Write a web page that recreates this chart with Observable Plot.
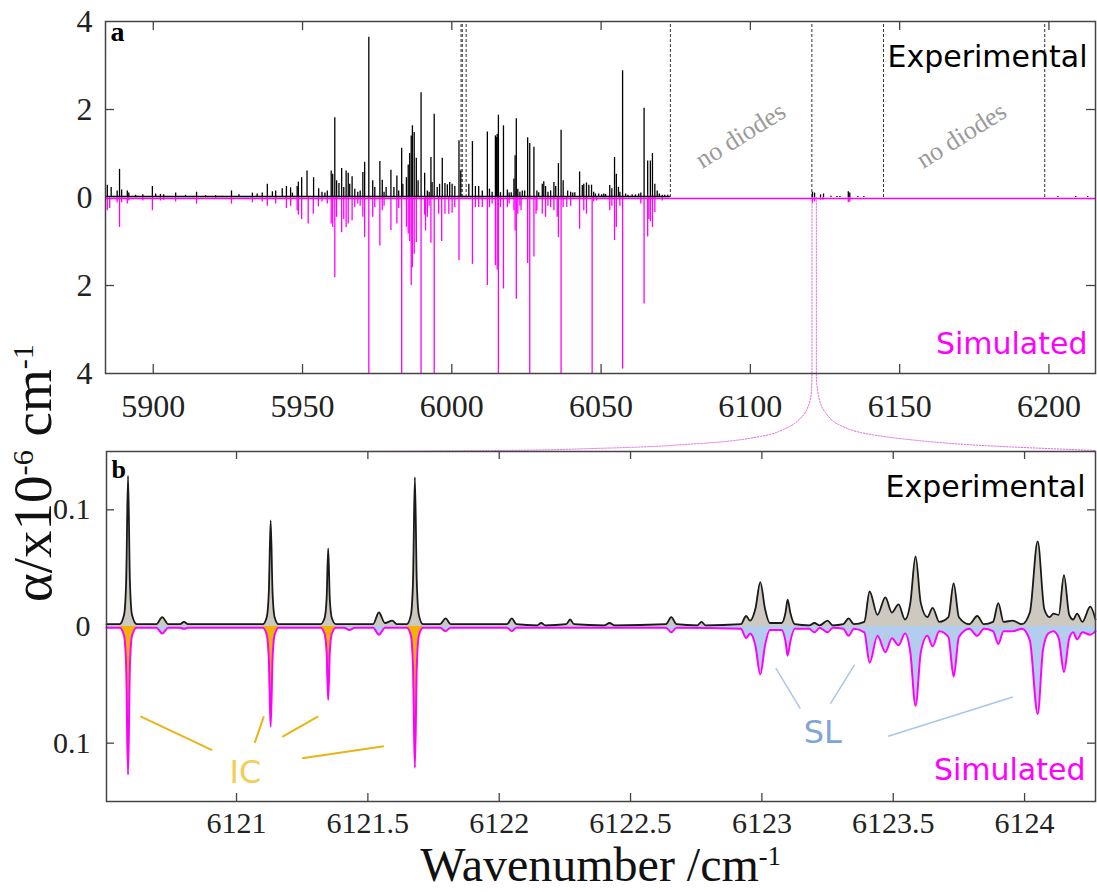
<!DOCTYPE html>
<html><head><meta charset="utf-8">
<script src="https://cdn.jsdelivr.net/npm/d3@7"></script>
<script src="https://cdn.jsdelivr.net/npm/@observablehq/plot@0.6"></script>
<style>
body{margin:0;background:#fff;}
#fig{position:relative;width:1097px;height:892px;overflow:hidden;background:#fff;}
#fig svg{position:absolute;left:0;top:0;}
.serif{font-family:'Liberation Serif','Times New Roman',serif;color:#111;position:absolute;white-space:nowrap;}
.sup{position:relative;font-size:0.55em;}
</style></head><body><div id="fig"></div>
<script>
// ---------- Panel a: overview (wavenumber, alpha x1e-6) ----------
const expA = [
[5884.6,0.28],[5885.9,0.23],[5887.9,0.15],[5888.7,0.64],[5889.4,0.17],[5891.3,0.15],[5891.8,0.10],[5894.1,0.05],[5896.5,0.06],[5899.7,0.25],[5900.8,0.08],[5902.4,0.07],[5903.5,0.06],[5907.5,0.10],[5910.8,0.05],[5914.5,0.12],[5917.5,0.04],[5920.9,0.04],[5923.1,0.03],[5926.2,0.15],[5928.7,0.06],[5933.2,0.10],[5934.8,0.08],[5936.5,0.10],[5938.2,0.30],[5939.9,0.13],[5941.0,0.15],[5943.2,0.20],[5944.6,0.25],[5946.0,0.22],[5946.6,0.10],[5948.2,0.25],
[5948.6,0.35],[5949.7,0.45],[5951.5,0.60],[5953.7,0.45],[5955.4,0.20],[5956.5,0.12],[5957.5,0.10],[5958.3,0.15],
[5959.6,0.60],[5960.1,0.53],[5960.8,1.81],[5961.4,0.38],[5962.2,0.32],[5963.1,0.66],[5963.8,0.23],[5964.6,0.60],[5965.3,0.55],[5965.8,0.30],[5966.6,0.47],[5967.5,0.19],[5968.5,0.12],[5969.3,0.15],[5970.2,0.57],[5970.8,0.80],[5972.2,3.64],[5973.5,0.38],[5974.2,0.23],[5975.9,0.82],[5976.7,0.39],[5977.3,0.12],[5978.0,0.23],[5979.6,0.62],[5980.6,0.23],[5981.6,0.49],[5982.2,0.15],[5983.2,1.12],[5983.6,0.30],[5984.8,0.45],[5985.4,0.74],[5985.9,1.00],[5986.4,1.40],[5986.8,1.63],[5987.4,1.48],[5988.1,0.89],[5988.7,0.38],[5989.7,2.38],[5990.9,0.55],[5991.8,0.15],[5992.4,0.12],[5993.0,0.91],[5993.4,0.34],[5994.1,1.89],[5995.1,0.23],[5995.9,0.30],[5996.8,0.89],[5997.7,0.32],[5998.5,0.29],[5999.3,0.34],[6000.1,0.30],[6001.0,0.25],[6002.4,1.29],[6003.0,0.60],
[6005.7,0.30],[6006.9,1.27],[6007.9,0.25],[6009.0,0.25],[6010.2,0.15],[6011.9,1.49],[6012.6,0.19],[6013.5,0.12],[6014.6,1.40],[6015.0,1.36],[6015.2,1.43],[6015.6,1.87],[6016.3,0.11],[6017.3,1.63],[6018.6,0.17],[6019.2,0.10],[6019.9,0.11],[6020.8,0.42],[6021.2,0.95],[6021.6,1.79],[6022.1,0.19],[6022.8,0.12],[6023.6,0.15],[6024.4,0.15],[6025.4,1.36],[6026.1,1.23],[6027.5,1.14],[6028.5,0.15],[6029.1,0.11],[6030.3,0.30],[6030.8,0.36],[6031.4,0.25],[6032.2,0.12],[6033.1,0.15],[6034.2,0.34],[6034.8,0.25],[6035.7,0.77],[6036.6,1.53],[6037.3,0.38],[6038.8,0.15],[6039.8,0.12],[6040.5,0.10],[6041.2,0.11],[6042.8,0.58],[6043.7,0.27],[6044.2,0.30],[6045.1,0.33],[6045.9,0.28],[6046.8,0.28],[6047.5,0.12],[6048.1,0.08],[6049.2,0.08],[6050.2,0.06],[6050.9,0.08],[6051.5,0.07],[6052.9,0.27],[6053.6,0.20],[6054.5,0.91],[6055.1,0.53],[6055.8,0.23],[6056.3,0.12],[6057.2,2.88],[6058.2,0.08],[6059.0,0.05],[6060.4,0.06],[6061.5,0.06],[6062.6,0.08],[6063.3,0.10],[6064.4,2.03],[6065.6,0.83],[6066.5,0.83],[6067.2,1.00],[6068.0,0.30],[6068.8,0.15],[6069.5,0.08],[6070.5,0.05],[6071.3,0.05],[6072.3,0.05],
[6120.8,0.12],[6121.5,0.10],[6123.5,0.06],[6124.5,0.08],[6127.0,0.03],[6129.0,0.02],[6130.0,0.02],[6132.8,0.13],[6133.3,0.10],[6136.0,0.02],[6138.0,0.02],[6203.0,0.02],[6209.0,0.02],[6213.0,0.02]
];
const simA = [
[5884.6,0.30],[5885.4,0.25],[5887.9,0.12],[5888.7,0.68],[5889.4,0.12],[5891.3,0.15],[5891.8,0.08],[5896.5,0.08],[5899.7,0.30],[5902.4,0.08],[5903.5,0.06],[5907.5,0.10],[5914.5,0.15],[5920.9,0.03],[5926.2,0.15],[5933.2,0.12],[5936.5,0.10],[5938.2,0.20],[5941.0,0.15],[5944.6,0.25],[5946.0,0.20],[5948.2,0.30],
[5948.6,0.40],[5949.7,0.50],[5951.9,0.60],[5953.6,0.38],[5955.3,0.21],[5956.5,0.10],[5958.3,0.15],[5959.6,0.60],[5960.1,0.68],[5960.8,1.82],[5961.4,0.45],[5963.1,0.80],[5963.8,0.50],[5964.6,0.68],[5965.3,0.60],[5966.6,0.53],[5967.5,0.23],[5968.5,0.15],[5969.3,0.20],[5970.2,0.45],[5970.8,0.91],[5972.2,4.0],[5973.5,0.45],[5974.2,0.23],[5975.9,1.10],[5976.7,0.30],[5977.3,0.20],[5979.6,0.75],
[5981.6,0.60],[5982.2,0.25],[5983.2,4.0],[5984.8,0.68],[5985.4,0.83],[5985.9,1.00],[5986.4,2.00],[5986.8,1.60],[5987.4,1.29],[5988.1,1.02],[5989.7,4.0],[5990.9,0.40],[5991.2,0.76],[5991.8,0.45],[5992.4,0.20],[5993.0,1.04],[5994.1,4.0],[5995.6,0.38],[5996.6,1.00],[5997.7,0.38],[5999.0,0.38],[6000.1,0.36],[6001.0,0.23],[6002.4,1.44],
[6006.9,1.52],[6007.9,0.23],[6009.0,0.23],[6010.2,0.23],[6011.9,2.00],[6012.6,0.23],[6013.5,0.15],[6014.6,1.55],[6015.2,1.65],[6015.6,4.0],[6016.3,0.23],[6017.3,2.08],[6018.6,0.23],[6019.2,0.15],[6020.8,0.30],[6021.2,0.76],[6021.6,2.31],[6022.1,0.38],[6022.8,0.20],[6023.2,0.30],[6025.4,1.50],[6026.1,4.0],[6027.5,1.35],[6028.2,0.38],[6028.5,0.30],[6030.3,0.38],[6031.4,0.45],[6032.2,0.20],[6033.1,0.23],[6034.2,0.30],[6035.3,0.45],[6035.7,0.91],[6036.6,4.0],[6037.3,0.23],[6038.5,0.23],[6039.8,0.20],[6042.8,0.72],[6044.2,0.30],[6045.1,0.38],[6047.0,4.0],[6047.5,0.10],[6048.5,0.08],[6052.9,0.30],[6053.6,0.20],[6054.5,0.98],[6055.1,0.68],[6056.3,0.20],[6057.2,3.9],[6063.3,0.15],[6064.4,2.42],[6065.6,0.90],[6066.0,0.50],[6066.5,0.55],[6067.2,0.68],[6068.0,0.34],[6070.5,0.08],
[6120.8,0.13],[6121.5,0.10],[6123.5,0.06],[6124.3,0.06],[6132.8,0.12],[6133.3,0.10]
];
const diodeEdgesA = [6003.1, 6003.5, 6004.8, 6073.2, 6120.6, 6144.6, 6198.6];
const expRangeA = [[5884.0, 6073.2]];
const noDiodesA = [[6096.7, 1.41], [6170.7, 1.41]];
const xTicksA = [5900, 5950, 6000, 6050, 6100, 6150, 6200];
const yTicksA = [-4, -2, 0, 2, 4];
const xDomainA = [5884.0, 6215.6];
const yDomainA = [-4, 4];
// zoom connector (dotted), in panel-a units
const connLeft = [[6120.64,0],[6120.64,-4.0],[6120.46,-4.39],[6119.46,-4.73],[6116.78,-5.02],[6111.76,-5.25],[6103.39,-5.43],[6083.29,-5.59],[6049.8,-5.70],[6016.3,-5.75],[5972.1,-5.77]];
const connRight = [[6122.1,0],[6122.1,-4.0],[6122.81,-4.5],[6125.15,-4.89],[6130.17,-5.18],[6136.87,-5.34],[6150.27,-5.48],[6178.73,-5.64],[6215.6,-5.75]];

// ---------- Panel b: zoom 6120.5 - 6124.3 ----------
const expB = [
[6120.505,0.002],[6120.555,0.002],[6120.572,0.010],[6120.580,0.040],[6120.587,0.129],[6120.594,0.040],[6120.602,0.010],[6120.62,0.002],
[6120.695,0.002],[6120.717,0.008],[6120.74,0.002],[6120.785,0.002],[6120.80,0.004],[6120.815,0.002],
[6121.10,0.002],[6121.115,0.008],[6121.123,0.030],[6121.130,0.091],[6121.137,0.030],[6121.145,0.008],[6121.16,0.002],
[6121.32,0.002],[6121.335,0.007],[6121.343,0.024],[6121.349,0.067],[6121.355,0.024],[6121.363,0.007],[6121.378,0.002],
[6121.52,0.002],[6121.542,0.012],[6121.565,0.003],[6121.593,0.005],[6121.61,0.002],
[6121.648,0.002],[6121.664,0.010],[6121.672,0.040],[6121.679,0.128],[6121.686,0.040],[6121.694,0.010],[6121.71,0.002],
[6121.775,0.002],[6121.796,0.007],[6121.815,0.002],[6122.03,0.002],[6122.048,0.007],[6122.065,0.002],
[6122.145,0.001],[6122.16,0.003],[6122.175,0.001],[6122.255,0.002],[6122.27,0.006],[6122.285,0.002],
[6122.40,0.001],[6122.42,0.003],[6122.44,0.001],[6122.635,0.002],[6122.655,0.008],[6122.675,0.002],
[6122.755,0.001],[6122.77,0.004],[6122.785,0.001],
[6122.92,0.002],[6122.94,0.009],[6122.955,0.005],[6122.975,0.015],[6122.994,0.038],[6123.012,0.015],[6123.03,0.003],
[6123.075,0.003],[6123.09,0.012],[6123.098,0.023],[6123.108,0.012],[6123.125,0.002],
[6123.18,0.001],[6123.20,0.003],[6123.22,0.001],[6123.25,0.005],[6123.27,0.001],[6123.31,0.002],[6123.33,0.007],[6123.35,0.002],
[6123.39,0.004],[6123.41,0.030],[6123.44,0.010],[6123.47,0.025],[6123.495,0.012],[6123.52,0.019],[6123.545,0.006],[6123.565,0.020],[6123.585,0.060],[6123.605,0.020],[6123.63,0.008],[6123.65,0.016],[6123.675,0.004],[6123.71,0.008],[6123.73,0.037],[6123.75,0.008],[6123.79,0.002],[6123.82,0.009],[6123.845,0.002],[6123.88,0.004],[6123.90,0.020],[6123.92,0.004],[6123.955,0.005],[6123.99,0.002],[6124.02,0.012],[6124.05,0.073],[6124.075,0.015],[6124.095,0.008],[6124.11,0.011],[6124.13,0.010],[6124.15,0.044],[6124.17,0.010],[6124.185,0.006],[6124.20,0.011],[6124.22,0.004],[6124.25,0.017],[6124.27,0.006]
];
const simB = [
[6120.505,-0.001],[6120.555,-0.001],[6120.572,-0.008],[6120.580,-0.035],[6120.587,-0.127],[6120.594,-0.035],[6120.602,-0.008],[6120.62,-0.001],
[6120.695,-0.001],[6120.717,-0.006],[6120.74,-0.001],[6120.785,-0.001],[6120.80,-0.002],[6120.815,-0.001],
[6121.10,-0.001],[6121.115,-0.007],[6121.123,-0.028],[6121.130,-0.086],[6121.137,-0.028],[6121.145,-0.007],[6121.16,-0.001],
[6121.32,-0.001],[6121.335,-0.006],[6121.343,-0.022],[6121.349,-0.063],[6121.355,-0.022],[6121.363,-0.006],[6121.378,-0.001],
[6121.41,-0.001],[6121.43,-0.003],[6121.45,-0.001],[6121.52,-0.001],[6121.542,-0.007],[6121.565,-0.001],
[6121.648,-0.001],[6121.664,-0.008],[6121.672,-0.036],[6121.679,-0.121],[6121.686,-0.036],[6121.694,-0.008],[6121.71,-0.001],
[6121.775,-0.001],[6121.796,-0.004],[6121.815,-0.001],[6122.03,-0.001],[6122.048,-0.004],[6122.065,-0.001],
[6122.635,-0.001],[6122.655,-0.005],[6122.675,-0.001],
[6122.92,-0.002],[6122.94,-0.010],[6122.955,-0.006],[6122.975,-0.016],[6122.994,-0.041],[6123.012,-0.016],[6123.03,-0.003],
[6123.075,-0.003],[6123.09,-0.013],[6123.098,-0.025],[6123.108,-0.013],[6123.125,-0.002],
[6123.18,-0.002],[6123.20,-0.005],[6123.22,-0.001],[6123.25,-0.005],[6123.27,-0.001],[6123.31,-0.002],[6123.33,-0.008],[6123.35,-0.002],
[6123.39,-0.005],[6123.41,-0.031],[6123.44,-0.008],[6123.47,-0.022],[6123.495,-0.010],[6123.52,-0.016],[6123.545,-0.006],[6123.565,-0.022],[6123.585,-0.068],[6123.605,-0.022],[6123.63,-0.008],[6123.65,-0.017],[6123.675,-0.004],[6123.71,-0.009],[6123.73,-0.043],[6123.75,-0.009],[6123.79,-0.002],[6123.82,-0.008],[6123.845,-0.002],[6123.88,-0.004],[6123.90,-0.015],[6123.92,-0.004],[6123.955,-0.004],[6123.99,-0.002],[6124.02,-0.012],[6124.05,-0.075],[6124.07,-0.020],[6124.09,-0.006],[6124.11,-0.004],[6124.13,-0.010],[6124.15,-0.039],[6124.17,-0.010],[6124.185,-0.005],[6124.20,-0.011],[6124.22,-0.005],[6124.25,-0.007],[6124.27,-0.004]
];
const icPeaksB = [6120.587, 6121.130, 6121.349, 6121.679];
const icLinksB = [[6120.634,-0.077,6120.907,-0.106],[6121.104,-0.077,6121.069,-0.0997],[6121.311,-0.077,6121.174,-0.0946],[6121.250,-0.113,6121.561,-0.1026]];
const icLabelB = [6121.034, -0.134];
const slLinksB = [[6123.053,-0.0356,6123.146,-0.0703],[6123.353,-0.0327,6123.261,-0.0661],[6123.955,-0.0604,6123.481,-0.094]];
const slLabelB = [6123.232, -0.100];
const xTicksB = [6121, 6121.5, 6122, 6122.5, 6123, 6123.5, 6124];
const yTicksB = [-0.1, 0, 0.1];
const xDomainB = [6120.505, 6124.27];
const yDomainB = [-0.15, 0.15];

const MAG = "#ff00ff";
const W = 1097, H = 892;
const serif = "'Liberation Serif','Times New Roman',serif";
const sans = "'DejaVu Sans',sans-serif";

function innerTicks(xt, yt, xd, yd, w, h, len) {
  const tx = (xd[1] - xd[0]) * len / w, ty = (yd[1] - yd[0]) * len / h;
  const o = {stroke: "#444", strokeWidth: 1.3};
  return [
    Plot.ruleX(xt, {y1: yd[0], y2: yd[0] + ty, ...o}),
    Plot.ruleX(xt, {y1: yd[1], y2: yd[1] - ty, ...o}),
    Plot.ruleY(yt, {x1: xd[0], x2: xd[0] + tx, ...o}),
    Plot.ruleY(yt, {x1: xd[1], x2: xd[1] - tx, ...o})
  ];
}

// Panel a geometry
const mA = {top: 21, bottom: H - 373, left: 105, right: W - 1095};
const plotA = Plot.plot({
  width: W, height: H,
  marginTop: mA.top, marginBottom: mA.bottom, marginLeft: mA.left, marginRight: mA.right,
  style: {background: "transparent", overflow: "visible", fontFamily: serif, fontSize: "32px", color: "#222"},
  x: {domain: xDomainA, ticks: xTicksA, tickFormat: d => String(d), tickSize: 0, tickPadding: 21, label: null},
  y: {domain: yDomainA, ticks: yTicksA, tickFormat: d => String(Math.abs(d)), tickSize: 0, tickPadding: 13, label: null},
  marks: [
    Plot.line(connLeft, {x: d => d[0], y: d => d[1], stroke: "#e266e2", strokeWidth: 1, strokeDasharray: "1.5,1.5", curve: "monotone-y"}),
    Plot.line(connRight, {x: d => d[0], y: d => d[1], stroke: "#e266e2", strokeWidth: 1, strokeDasharray: "1.5,1.5", curve: "monotone-y"}),
    Plot.ruleX(diodeEdgesA, {y1: 0, y2: 4, stroke: "#333", strokeWidth: 1, strokeDasharray: "3,2"}),
    Plot.ruleY([0], {stroke: MAG, strokeWidth: 1.6, dy: 1}),
    Plot.ruleY(expRangeA, {x1: d => d[0], x2: d => d[1], y: 0, stroke: "#000", strokeWidth: 1.6, dy: -1}),
    Plot.ruleX(expA, {x: d => d[0], y1: 0, y2: d => d[1], stroke: "#000", strokeWidth: 1.3}),
    Plot.ruleX(simA, {x: d => d[0], y1: 0, y2: d => -d[1], stroke: MAG, strokeWidth: 1.3}),
    Plot.text(noDiodesA, {x: d => d[0], y: d => d[1], text: () => "no diodes", rotate: -32, fill: "#9a9a9a", fontSize: 26, fontFamily: serif}),
    Plot.text(["Experimental"], {frameAnchor: "top-right", dx: -8, dy: 24, lineAnchor: "top", textAnchor: "end", fontFamily: sans, fontSize: 30, fill: "#000"}),
    Plot.text(["Simulated"], {frameAnchor: "bottom-right", dx: -8, dy: -20, lineAnchor: "bottom", textAnchor: "end", fontFamily: sans, fontSize: 30, fill: MAG}),
    Plot.text(["a"], {frameAnchor: "top-left", dx: 5, dy: 0, lineAnchor: "top", textAnchor: "start", fontFamily: serif, fontWeight: "bold", fontSize: 28, fill: "#000"}),
    Plot.frame({stroke: "#444", strokeWidth: 1.5}),
    ...innerTicks(xTicksA, [-2, 2], xDomainA, yDomainA, 990, 352, 9)
  ]
});

// Panel b geometry
const mB = {top: 451, bottom: H - 801, left: 106, right: W - 1095};
const icArea = simB
  .map(d => ({x: d[0], y: d[1], k: icPeaksB.findIndex(c => Math.abs(d[0] - c) <= 0.035)}))
  .filter(d => d.k >= 0);
const plotB = Plot.plot({
  width: W, height: H,
  marginTop: mB.top, marginBottom: mB.bottom, marginLeft: mB.left, marginRight: mB.right,
  style: {background: "transparent", overflow: "visible", fontFamily: serif, fontSize: "30px", color: "#222"},
  x: {domain: xDomainB, ticks: xTicksB, tickFormat: d => String(d), tickSize: 0, tickPadding: 10, label: null},
  y: {domain: yDomainB, ticks: yTicksB, tickFormat: d => String(Math.abs(d)), tickSize: 0, tickPadding: 16, label: null},
  marks: [
    Plot.areaY(expB, {x: d => d[0], y: d => d[1], fill: "#cdc9c1", curve: "monotone-x"}),
    Plot.areaY(simB, {x: d => d[0], y: d => d[1], fill: "#b3cdef", curve: "monotone-x"}),
    Plot.areaY(icArea, {x: "x", y: "y", z: "k", fill: "#f0b400", curve: "monotone-x"}),
    Plot.line(simB, {x: d => d[0], y: d => d[1], stroke: MAG, strokeWidth: 2, curve: "monotone-x"}),
    Plot.line(expB, {x: d => d[0], y: d => d[1], stroke: "#1a1a1a", strokeWidth: 1.8, curve: "monotone-x"}),
    Plot.link(icLinksB, {x1: d => d[0], y1: d => d[1], x2: d => d[2], y2: d => d[3], stroke: "#e8b416", strokeWidth: 2}),
    Plot.link(slLinksB, {x1: d => d[0], y1: d => d[1], x2: d => d[2], y2: d => d[3], stroke: "#a9c6e8", strokeWidth: 1.5}),
    Plot.text([icLabelB], {x: d => d[0], y: d => d[1], text: () => "IC", lineAnchor: "bottom", fontFamily: sans, fontSize: 32, fill: "#f3cd58"}),
    Plot.text([slLabelB], {x: d => d[0], y: d => d[1], text: () => "SL", lineAnchor: "bottom", fontFamily: sans, fontSize: 32, fill: "#7ea5d6"}),
    Plot.text(["Experimental"], {frameAnchor: "top-right", dx: -10, dy: 24, lineAnchor: "top", textAnchor: "end", fontFamily: sans, fontSize: 30, fill: "#000"}),
    Plot.text(["Simulated"], {frameAnchor: "bottom-right", dx: -10, dy: -22, lineAnchor: "bottom", textAnchor: "end", fontFamily: sans, fontSize: 30, fill: MAG}),
    Plot.text(["b"], {frameAnchor: "top-left", dx: 5, dy: 8, lineAnchor: "top", textAnchor: "start", fontFamily: serif, fontWeight: "bold", fontSize: 26, fill: "#000"}),
    Plot.frame({stroke: "#444", strokeWidth: 1.5}),
    ...innerTicks(xTicksB, [-0.1, 0.1], xDomainB, yDomainB, 989, 350, 8)
  ]
});

const fig = document.getElementById("fig");
fig.appendChild(plotA);
fig.appendChild(plotB);

// axis titles
const yl = document.createElement("div");
yl.className = "serif";
yl.style.cssText += "left:5px;top:673px;width:400px;height:55px;line-height:55px;font-size:55px;text-align:center;transform-origin:0 0;transform:rotate(-90deg);";
yl.innerHTML = 'α/x10<span class="sup" style="top:-0.6em">-6</span> cm<span class="sup" style="top:-0.6em">-1</span>';
fig.appendChild(yl);

const xl = document.createElement("div");
xl.className = "serif";
xl.style.cssText += "left:106px;top:847px;width:989px;height:36px;line-height:36px;font-size:48px;text-align:center;";
xl.innerHTML = 'Wavenumber /cm<span class="sup" style="top:-0.6em">-1</span>';
fig.appendChild(xl);
</script></body></html>
